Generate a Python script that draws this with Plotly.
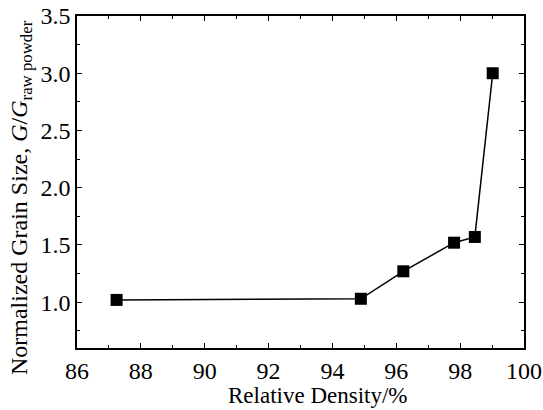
import plotly.graph_objects as go

density = [87.24, 94.89, 96.22, 97.81, 98.46, 99.02]
grain = [1.02, 1.03, 1.27, 1.52, 1.57, 3.0]
x_title = "Relative Density/%"
y_title = "Normalized Grain Size, <i>G</i>/<i>G</i><sub>raw powder</sub>"

fig = go.Figure()
fig.add_trace(go.Scatter(
    x=density, y=grain, mode="lines+markers",
    line=dict(color="black", width=1.5),
    marker=dict(symbol="square", size=12, color="black"),
    showlegend=False,
))

FAM = "Liberation Serif"
font = dict(family=FAM, color="black")
axcommon = dict(
    showline=True, linecolor="black", linewidth=1.5, mirror="ticks",
    ticks="inside", ticklen=5, tickwidth=1.2, tickcolor="black",
    showgrid=False, zeroline=False, automargin=False,
    tickfont=dict(size=24, **font),
)
fig.update_xaxes(
    range=[86, 100], dtick=2, tick0=86,
    minor=dict(dtick=1, ticks="inside", ticklen=3, tickcolor="black", tickwidth=1),
    **axcommon,
)
fig.update_yaxes(
    range=[0.6, 3.5], dtick=0.5, tick0=0.5, tickformat=".1f",
    minor=dict(dtick=0.25, tick0=0.5, ticks="inside", ticklen=3, tickcolor="black", tickwidth=1),
    **axcommon,
)
fig.add_annotation(text=x_title, xref="paper", yref="paper", x=0.539, y=-0.1867,
                   xanchor="center", yanchor="bottom", showarrow=False,
                   font=dict(size=23, **font))
fig.add_annotation(text=y_title, xref="paper", yref="paper", x=-0.125, y=0.452,
                   xanchor="center", yanchor="middle", showarrow=False, textangle=-90,
                   font=dict(size=24, **font))
fig.update_layout(
    width=543, height=410,
    margin=dict(l=77, r=19, t=16, b=62),
    plot_bgcolor="white", paper_bgcolor="white",
    font=font,
)
fig.write_html("out.html", config={"displayModeBar": False},
               post_script="document.body.style.margin='0';")
